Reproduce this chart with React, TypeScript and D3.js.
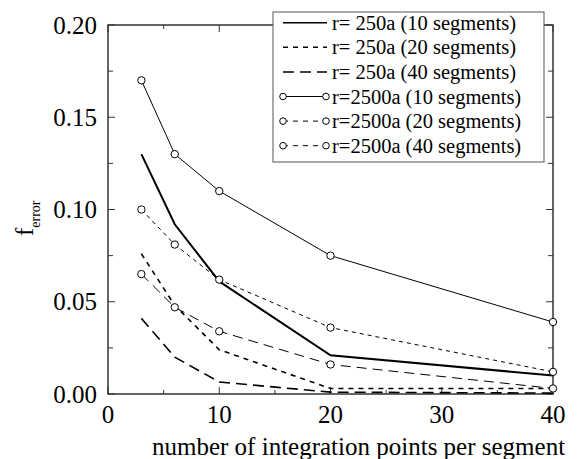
import React, { useEffect, useRef } from "react";
import * as d3 from "d3";

// integration points per segment
const xPoints = [3, 6, 10, 20, 40];

// f_error for each case
const r250Seg10 = [0.13, 0.092, 0.061, 0.021, 0.01];
const r250Seg20 = [0.076, 0.048, 0.024, 0.003, 0.003];
const r250Seg40 = [0.041, 0.02, 0.0065, 0.001, 0.0005];
const r2500Seg10 = [0.17, 0.13, 0.11, 0.075, 0.039];
const r2500Seg20 = [0.1, 0.081, 0.062, 0.036, 0.012];
const r2500Seg40 = [0.065, 0.047, 0.034, 0.016, 0.003];

const seriesLabels = [
  "r= 250a (10 segments)",
  "r= 250a (20 segments)",
  "r= 250a (40 segments)",
  "r=2500a (10 segments)",
  "r=2500a (20 segments)",
  "r=2500a (40 segments)",
];

const xTicks = [0, 10, 20, 30, 40];
const yTicks = [0, 0.05, 0.1, 0.15, 0.2];

const App = () => {
  const ref = useRef<SVGSVGElement | null>(null);

  useEffect(() => {
    const width = 578;
    const height = 459;
    const font = '"Liberation Serif", "DejaVu Serif", serif';

    const svg = d3.select(ref.current).attr("width", width).attr("height", height).style("font-family", font);
    svg.selectAll("*").remove();

    svg.append("rect").attr("width", width).attr("height", height).attr("fill", "#fff");

    const x = d3.scaleLinear().domain([0, 40]).range([108, 553]);
    const y = d3.scaleLinear().domain([0, 0.2]).range([394, 25]);

    const series = [
      { values: r250Seg10, dash: null, width: 2, marker: false },
      { values: r250Seg20, dash: "5,5", width: 1.6, marker: false },
      { values: r250Seg40, dash: "11,6", width: 1.6, marker: false },
      { values: r2500Seg10, dash: null, width: 1, marker: true },
      { values: r2500Seg20, dash: "4,4", width: 1, marker: true },
      { values: r2500Seg40, dash: "10,6", width: 1, marker: true },
    ];

    const line = d3
      .line<number>()
      .x((_, i) => x(xPoints[i]))
      .y((d) => y(d));

    // frame
    const axisColor = "#333";
    svg
      .append("rect")
      .attr("x", x(0))
      .attr("y", y(0.2))
      .attr("width", x(40) - x(0))
      .attr("height", y(0) - y(0.2))
      .attr("fill", "none")
      .attr("stroke", axisColor)
      .attr("stroke-width", 1.5);

    // inward ticks on all four sides
    const xMinor = d3.range(0, 41, 5);
    xMinor.forEach((v) => {
      const len = v % 10 === 0 ? 7 : 4;
      svg.append("line").attr("x1", x(v)).attr("x2", x(v)).attr("y1", y(0)).attr("y2", y(0) - len).attr("stroke", axisColor);
      svg.append("line").attr("x1", x(v)).attr("x2", x(v)).attr("y1", y(0.2)).attr("y2", y(0.2) + len).attr("stroke", axisColor);
    });
    const yMinor = d3.range(0, 0.2001, 0.025);
    yMinor.forEach((v, i) => {
      const len = i % 2 === 0 ? 7 : 5;
      svg.append("line").attr("x1", x(0)).attr("x2", x(0) + len).attr("y1", y(v)).attr("y2", y(v)).attr("stroke", axisColor);
      svg.append("line").attr("x1", x(40)).attr("x2", x(40) - len).attr("y1", y(v)).attr("y2", y(v)).attr("stroke", axisColor);
    });

    // tick labels
    svg
      .selectAll(".xt")
      .data(xTicks)
      .join("text")
      .attr("x", (d) => x(d))
      .attr("y", 423)
      .attr("text-anchor", "middle")
      .style("font-size", "25px")
      .text((d) => d);

    svg
      .selectAll(".yt")
      .data(yTicks)
      .join("text")
      .attr("x", 97)
      .attr("y", (d) => y(d))
      .attr("dy", "0.34em")
      .attr("text-anchor", "end")
      .style("font-size", "25px")
      .text((d) => d3.format(".2f")(d));

    // axis titles
    svg
      .append("text")
      .attr("x", 152)
      .attr("y", 455)
      .style("font-size", "25px")
      .text("number of integration points per segment");

    const yTitle = svg
      .append("text")
      .attr("transform", "translate(33,236) rotate(-90)")
      .style("font-size", "25px");
    yTitle.append("tspan").text("f");
    yTitle.append("tspan").style("font-size", "14px").attr("dy", 7).text("error");

    // data lines
    series.forEach((s) => {
      svg
        .append("path")
        .attr("d", line(s.values))
        .attr("fill", "none")
        .attr("stroke", "#000")
        .attr("stroke-width", s.width)
        .attr("stroke-dasharray", s.dash);
      if (s.marker) {
        svg
          .append("g")
          .selectAll("circle")
          .data(s.values)
          .join("circle")
          .attr("cx", (_, i) => x(xPoints[i]))
          .attr("cy", (d) => y(d))
          .attr("r", 3.7)
          .attr("fill", "#fff")
          .attr("stroke", "#000")
          .attr("stroke-width", 1);
      }
    });

    // legend
    const legend = svg.append("g");
    legend
      .append("rect")
      .attr("x", 273)
      .attr("y", 12)
      .attr("width", 271)
      .attr("height", 150)
      .attr("fill", "#fff")
      .attr("stroke", "#555")
      .attr("stroke-width", 1);

    series.forEach((s, i) => {
      const ry = 22.7 + i * 24.6;
      legend
        .append("line")
        .attr("x1", 283)
        .attr("x2", 327)
        .attr("y1", ry)
        .attr("y2", ry)
        .attr("stroke", "#000")
        .attr("stroke-width", s.marker ? 1 : 1.5)
        .attr("stroke-dasharray", s.dash ? (s.marker ? "5,5" : s.dash) : null);
      if (s.marker) {
        [283, 326].forEach((cx) =>
          legend
            .append("circle")
            .attr("cx", cx)
            .attr("cy", ry)
            .attr("r", 3.3)
            .attr("fill", "#fff")
            .attr("stroke", "#000")
        );
      }
      legend
        .append("text")
        .attr("x", 332)
        .attr("y", ry + 7)
        .style("font-size", "20.5px")
        .text(seriesLabels[i]);
    });
  }, []);

  return <svg ref={ref} style={{ position: "absolute", left: 0, top: 0 }}></svg>;
};

export default App;
